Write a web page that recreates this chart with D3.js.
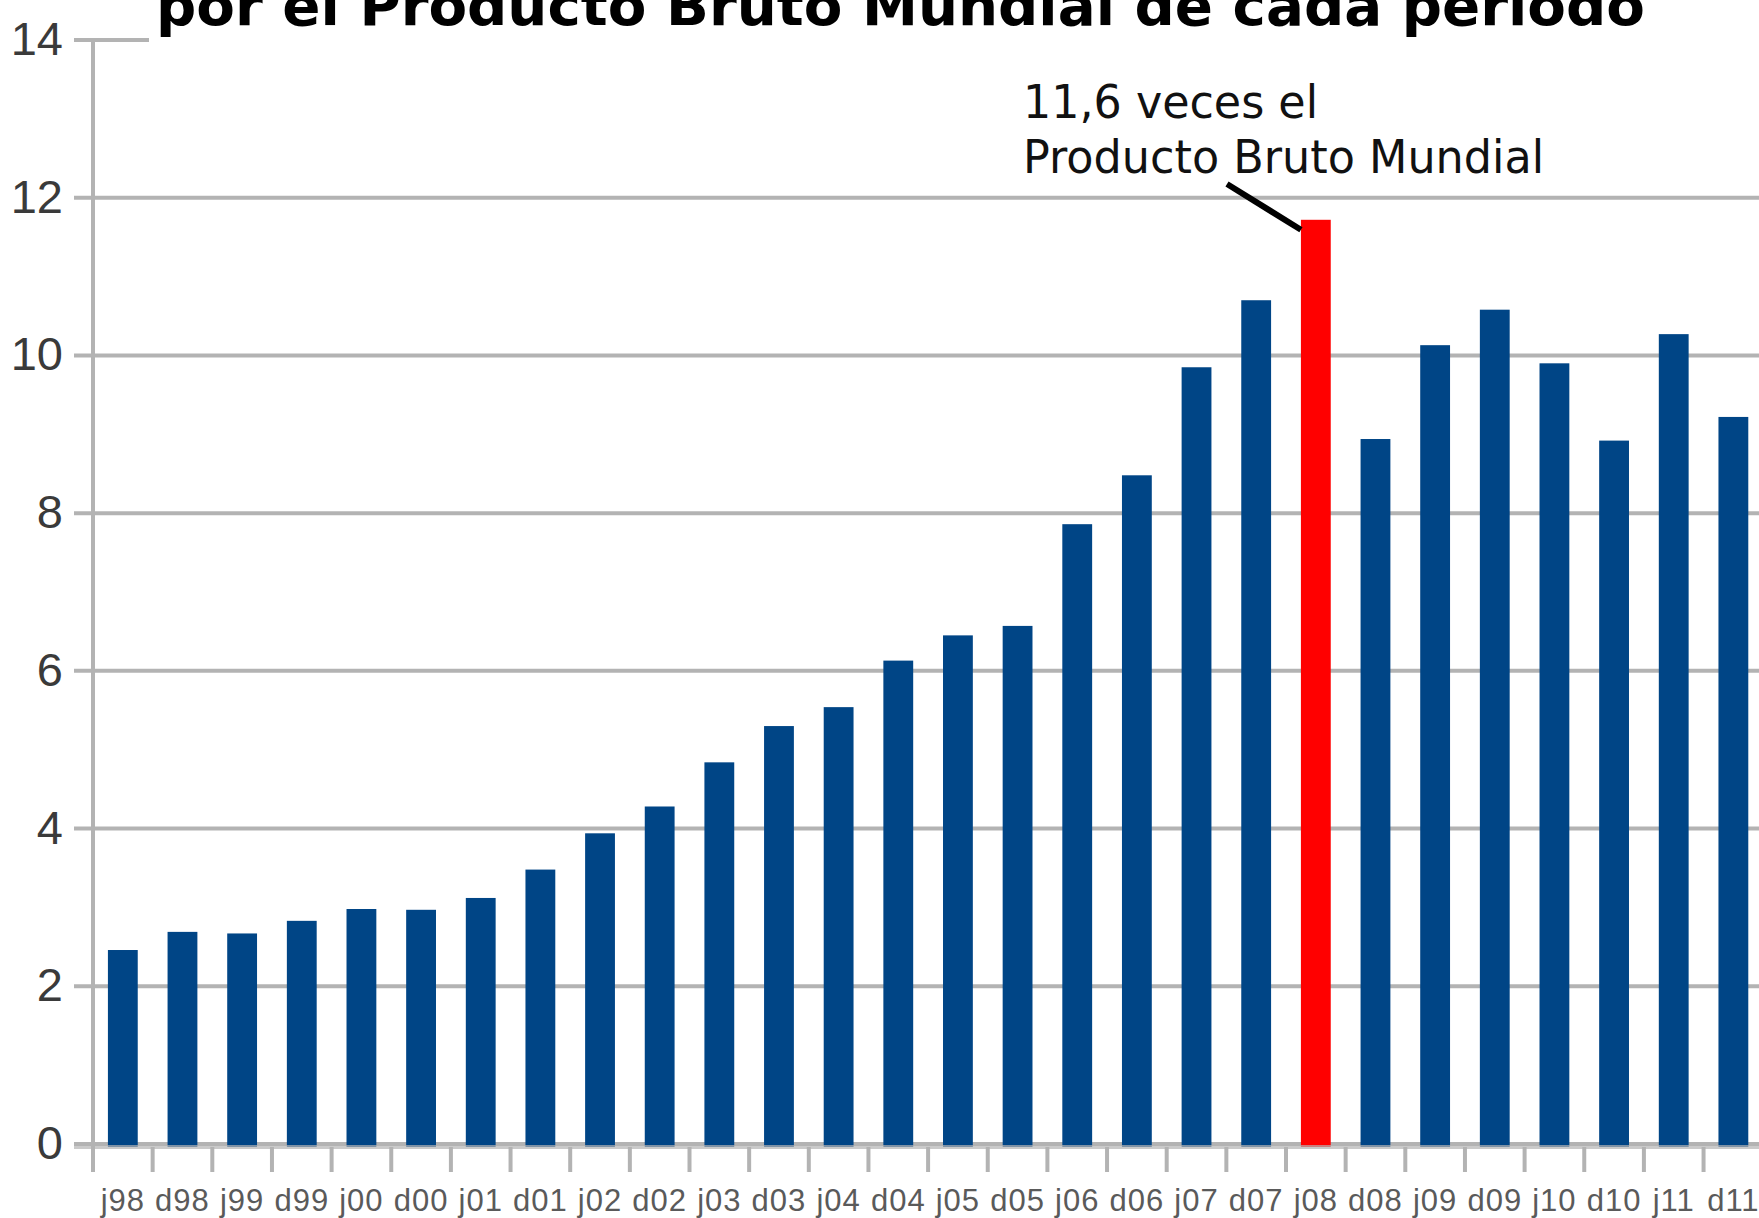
<!DOCTYPE html>
<html>
<head>
<meta charset="utf-8">
<script src="https://d3js.org/d3.v7.min.js"></script>
<style>
  body { margin: 0; background: #fff; }
  svg { display: block; }
</style>
</head>
<body>
<div id="chart"></div>
<script>
// periodos (j = junio, d = diciembre)
var categories = ["j98","d98","j99","d99","j00","d00","j01","d01","j02","d02",
                  "j03","d03","j04","d04","j05","d05","j06","d06","j07","d07",
                  "j08","d08","j09","d09","j10","d10","j11","d11"];
// veces el Producto Bruto Mundial
var values = [2.46,2.69,2.67,2.83,2.98,2.97,3.12,3.48,3.94,4.28,
              4.84,5.30,5.54,6.13,6.45,6.57,7.86,8.48,9.85,10.70,
              11.72,8.94,10.13,10.58,9.90,8.92,10.27,9.22];
var highlight = "j08";
var yTicks = [0,2,4,6,8,10,12,14];
var titleText = "por el Producto Bruto Mundial de cada período";
var noteLines = ["11,6 veces el", "Producto Bruto Mundial"];

var W = 1759, H = 1218;
var axisX = 93, step = 59.65;

var svg = d3.select("#chart").append("svg")
    .attr("width", W)
    .attr("height", H);

var x = d3.scaleBand()
    .domain(categories)
    .range([axisX, axisX + step * categories.length])
    .paddingInner(0.5)
    .paddingOuter(0.25);

var y = d3.scaleLinear()
    .domain([0, 14])
    .range([1144, 40]);

var gridColor = "#b3b3b3";

// grid lines
svg.selectAll(".grid")
    .data(yTicks)
    .enter().append("line")
    .attr("class", "grid")
    .attr("x1", 74)
    .attr("x2", W)
    .attr("y1", function(d){ return y(d); })
    .attr("y2", function(d){ return y(d); })
    .attr("stroke", gridColor)
    .attr("stroke-width", 4);

// y labels
svg.selectAll(".ylab")
    .data(yTicks)
    .enter().append("text")
    .attr("class", "ylab")
    .attr("x", 63)
    .attr("y", function(d){ return y(d) + 15; })
    .attr("text-anchor", "end")
    .style("font-family", "'Liberation Sans', Arial, sans-serif")
    .style("font-size", "47px")
    .style("fill", "#3a3a3a")
    .text(function(d){ return d; });

// bars
var data = categories.map(function(c, i){ return {cat: c, value: values[i]}; });

svg.selectAll(".bar")
    .data(data)
    .enter().append("rect")
    .attr("class", "bar")
    .attr("x", function(d){ return x(d.cat); })
    .attr("width", x.bandwidth())
    .attr("y", function(d){ return y(d.value); })
    .attr("height", function(d){ return y(0) + 3 - y(d.value); })
    .attr("fill", function(d){ return d.cat == highlight ? "#ff0000" : "#004586"; });

// zero line over bars
svg.append("line")
    .attr("x1", 74).attr("x2", W)
    .attr("y1", y(0) + 3).attr("y2", y(0) + 3)
    .attr("stroke", gridColor)
    .attr("stroke-opacity", 0.7)
    .attr("stroke-width", 4);

// y axis line
svg.append("line")
    .attr("x1", axisX).attr("x2", axisX)
    .attr("y1", y(14)).attr("y2", 1172)
    .attr("stroke", gridColor)
    .attr("stroke-width", 4);

// x ticks between categories
var bounds = categories.map(function(c){ return x(c) - x.step() * 0.25; });
svg.selectAll(".xtick")
    .data(bounds.slice(1))
    .enter().append("line")
    .attr("class", "xtick")
    .attr("x1", function(d){ return d; })
    .attr("x2", function(d){ return d; })
    .attr("y1", y(0) + 3)
    .attr("y2", 1172)
    .attr("stroke", gridColor)
    .attr("stroke-width", 4);

// x labels
svg.selectAll(".xlab")
    .data(categories)
    .enter().append("text")
    .attr("class", "xlab")
    .attr("x", function(d){ return x(d) + x.bandwidth() / 2; })
    .attr("y", 1211)
    .attr("text-anchor", "middle")
    .style("font-family", "'Liberation Sans', Arial, sans-serif")
    .style("font-size", "31px")
    .style("letter-spacing", "1px")
    .style("fill", "#5a5a5a")
    .text(function(d){ return d; });

// title (its box hides the top grid line)
svg.append("rect")
    .attr("x", 149).attr("y", 0)
    .attr("width", W - 149).attr("height", 44)
    .attr("fill", "#fff");

svg.append("text")
    .attr("x", 156)
    .attr("y", 25)
    .attr("textLength", 1489)
    .attr("lengthAdjust", "spacingAndGlyphs")
    .style("font-family", "'DejaVu Sans', sans-serif")
    .style("font-weight", "bold")
    .style("font-size", "56px")
    .style("fill", "#000")
    .text(titleText);

// annotation
var noteWidths = [295, 521];
svg.selectAll(".note")
    .data(noteLines)
    .enter().append("text")
    .attr("class", "note")
    .attr("x", 1023)
    .attr("y", function(d, i){ return 118 + i * 55; })
    .attr("textLength", function(d, i){ return noteWidths[i]; })
    .attr("lengthAdjust", "spacingAndGlyphs")
    .style("font-family", "'DejaVu Sans', sans-serif")
    .style("font-size", "47px")
    .style("fill", "#111")
    .text(function(d){ return d; });

var hx = x(highlight), hv = values[categories.indexOf(highlight)];
svg.append("line")
    .attr("x1", 1227).attr("y1", 184)
    .attr("x2", hx).attr("y2", y(hv) + 10)
    .attr("stroke", "#000")
    .attr("stroke-width", 6);
</script>
</body>
</html>
